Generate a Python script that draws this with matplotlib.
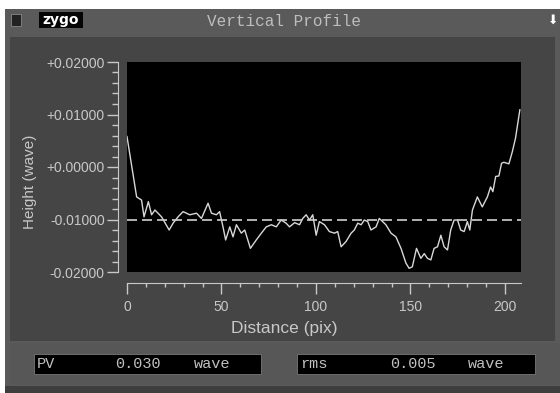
import matplotlib
matplotlib.use('Agg')
import matplotlib.pyplot as plt
from matplotlib.patches import Rectangle
from matplotlib.ticker import MultipleLocator

# Perfil (distancia en pix, altura en wave)
distance = [0, 5.1, 7.7, 9, 11.3, 13, 14.8, 18.3, 22.3, 24.4, 27, 29.7, 33.2, 36.8, 39.4,
            42.9, 44.7, 47.3, 49, 50.8, 52.2, 54.4, 56.1, 57.9, 60.5, 62.3, 65.3, 68.4,
            71.1, 73.7, 76.4, 79, 81.6, 84.2, 86, 88.7, 91.3, 93, 94.8, 96.6, 98.3, 100.1,
            101.8, 104.5, 107.1, 109.8, 111.5, 113.3, 115.9, 118.6, 120.3, 122.1, 123.9,
            125.6, 127.4, 129.1, 131.8, 133.5, 135.3, 137, 139.7, 142.3, 145, 147.6, 149.3,
            151, 153.2, 155.5, 157.3, 159, 160.8, 162.5, 164.3, 166.1, 167.8, 169.6, 171.3,
            173.1, 174.9, 176.6, 178.4, 180.1, 181.4, 182.8, 185.4, 188, 190.7, 192.4,
            193.6, 195.1, 196.8, 198.2, 199.4, 202.1, 203.9, 205.6, 207.9]
height = [0.0058, -0.0057, -0.0063, -0.0095, -0.0066, -0.0091, -0.0082, -0.0095, -0.0120,
          -0.0107, -0.0095, -0.0085, -0.0091, -0.0088, -0.0098, -0.0069, -0.0088, -0.0091,
          -0.0085, -0.0114, -0.0139, -0.0114, -0.0133, -0.0110, -0.0126, -0.0120, -0.0155,
          -0.0139, -0.0126, -0.0114, -0.0110, -0.0114, -0.0101, -0.0107, -0.0114, -0.0106,
          -0.0110, -0.0098, -0.0091, -0.0101, -0.0091, -0.0130, -0.0104, -0.0110, -0.0123,
          -0.0126, -0.0123, -0.0152, -0.0142, -0.0126, -0.0120, -0.0107, -0.0110, -0.0101,
          -0.0104, -0.0120, -0.0114, -0.0098, -0.0104, -0.0110, -0.0126, -0.0133, -0.0155,
          -0.0183, -0.0193, -0.0190, -0.0155, -0.0174, -0.0165, -0.0174, -0.0177, -0.0155,
          -0.0152, -0.0130, -0.0152, -0.0158, -0.0120, -0.0101, -0.0101, -0.0120, -0.0123,
          -0.0104, -0.0120, -0.0082, -0.0057, -0.0076, -0.0057, -0.0038, -0.0047, -0.0018,
          -0.0017, 0.0007, 0.0009, 0.0006, 0.0029, 0.0055, 0.0109]
mean_level = -0.0100
pv_value = '0.030'
rms_value = '0.005'

W, H = 560, 393
fig = plt.figure(figsize=(W / 100, H / 100), dpi=100)
fig.patch.set_facecolor('white')

def px_rect(x, y, w, h, color, z=-5, **kw):
    # rectangulo en pixeles, origen arriba a la izquierda
    fig.patches.append(Rectangle((x / W, 1 - (y + h) / H), w / W, h / H,
                                 transform=fig.transFigure, facecolor=color, zorder=z,
                                 edgecolor=kw.pop('ec', 'none'), lw=kw.pop('lw', 0), **kw))

def px_text(x, y, s, **kw):
    fig.text(x / W, 1 - y / H, s, **kw)

# marcos de la ventana
px_rect(5, 9, 555, 384, '#5a5a5a', z=-10)
px_rect(10, 37, 545, 304, '#454545', z=-9)
px_rect(10, 343, 550, 42, '#575757', z=-9)
px_rect(5, 386, 555, 7, '#3e3e3e', z=-9)

# barra de titulo
px_rect(11, 14, 10, 12, '#222222', ec='#888888', lw=0.6)
px_rect(39, 12, 44, 16, '#050505')
px_text(61, 20, 'zygo', color='white', fontsize=10, fontweight='bold',
        family='DejaVu Sans', ha='center', va='center')
px_text(284, 21, 'Vertical Profile', color='#bdbdbd', fontsize=11.5,
        family='Liberation Mono', ha='center', va='center')
px_text(553, 20, '\u2b07', color='white', fontsize=9, ha='center', va='center')

# area del grafico
ax = fig.add_axes([127 / W, 1 - 272 / H, 394 / W, 210 / H])
ax.set_facecolor('black')
ax.plot(distance, height, color='#d8d8d8', lw=1.0)
ax.axhline(mean_level, color='#cfcfcf', lw=1.2, dashes=(6, 3))
ax.set_xlim(0, 208.5)
ax.set_ylim(-0.02, 0.02)

grey = '#c8c8c8'
for side in ['top', 'right']:
    ax.spines[side].set_visible(False)
ax.spines['left'].set_position(('outward', 6.5))
ax.spines['bottom'].set_position(('outward', 8))
ax.spines['left'].set_color(grey)
ax.spines['bottom'].set_color(grey)
ax.spines['bottom'].set_bounds(0, 208.5)

ax.xaxis.set_major_locator(MultipleLocator(50))
ax.xaxis.set_minor_locator(MultipleLocator(10))
ax.yaxis.set_minor_locator(MultipleLocator(0.002))
ax.set_yticks([0.02, 0.01, 0.0, -0.01, -0.02])
ax.set_yticklabels(['+0.02000', '+0.01000', '+0.00000', '-0.01000', '-0.02000'])
ax.tick_params(axis='both', which='major', color=grey, labelcolor=grey,
               labelsize=10, width=1, length=8, pad=1.5)
ax.tick_params(axis='both', which='minor', color=grey, width=1, length=4)
ax.tick_params(axis='x', which='minor', length=3)
ax.tick_params(axis='x', which='major', pad=4)
for lab in ax.get_xticklabels() + ax.get_yticklabels():
    lab.set_family('Liberation Sans')

px_text(30, 182, 'Height (wave)', color=grey, fontsize=11, family='Liberation Sans',
        rotation=90, ha='center', va='center')
px_text(284, 328, 'Distance (pix)', color=grey, fontsize=12.5, family='Liberation Sans',
        ha='center', va='center')

# cajas de resultados
px_rect(34, 354, 227, 20, 'black', ec='#777777', lw=0.6)
px_rect(297, 354, 238, 20, 'black', ec='#777777', lw=0.6)
mono = dict(color='#c0c0c0', fontsize=11, family='Liberation Mono', va='center')
px_text(37, 364, 'PV', **mono)
px_text(115, 364, pv_value, **mono)
px_text(194, 364, 'wave', **mono)
px_text(300, 364, 'rms', **mono)
px_text(390, 364, rms_value, **mono)
px_text(468, 364, 'wave', **mono)

fig.savefig('out.png', dpi=100)
